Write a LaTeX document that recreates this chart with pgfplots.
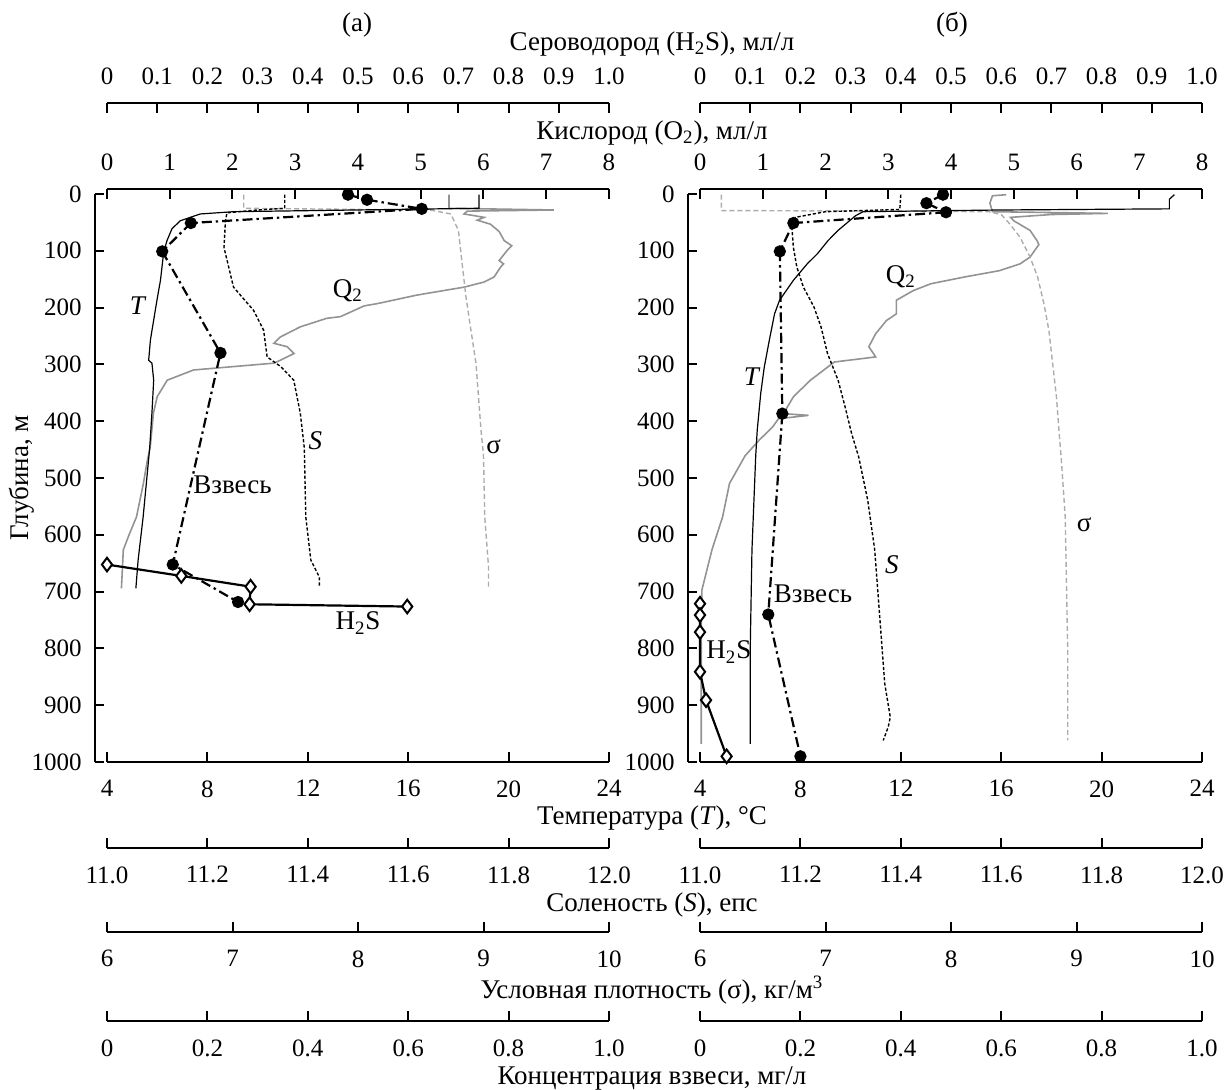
\documentclass[border=0pt]{standalone}
\usepackage{fontspec}
\setmainfont{Liberation Serif}
\usepackage{pgfplots}
\pgfplotsset{compat=1.18}

\pgfplotsset{
  every axis/.append style={scale only axis, tick align=inside,
    axis line style={line width=1pt,-}, major tick length=5pt,
    tick style={line width=1pt,black},
    ticklabel style={font=\fontsize{12.5}{15}\selectfont}},
  scalex/.style={axis y line=none, height=5pt, ymin=0, ymax=1, xticklabel shift=4.5pt},
  dat/.style 2 args={width=251pt, height=286.5pt, ymin=-10, ymax=1000, y dir=reverse,
    xmin=#1, xmax=#2, hide axis, clip=false},
  tline/.style={black, line width=0.6pt},
  sline/.style={black, line width=0.7pt, dash pattern=on 1.6pt off 1pt},
  sigline/.style={gray!65, line width=0.7pt, dash pattern=on 2.5pt off 1.5pt},
  oline/.style={gray!85, line width=0.8pt},
  vzline/.style={black, line width=1.1pt, dash pattern=on 5pt off 2pt on 1.2pt off 2pt,
    mark=*, mark size=2.5pt, mark options={solid}},
  hline/.style={black, line width=1.1pt, mark=diamond*, mark size=3.4pt,
    mark options={solid, fill=white, line width=1pt}},
}

% scale lines of one panel: #1 left edge of the plot box, #2 x of the depth axis
\newcommand{\panelscales}[2]{%
\begin{axis}[at={(#2pt,164pt)}, anchor=south west, width=3pt, height=284pt,
  xmin=0, xmax=1, ymin=0, ymax=1000, y dir=reverse,
  axis x line=none, axis y line*=left, major tick length=4.5pt,
  ytick={0,100,...,1000},
  yticklabels={0,100,200,300,400,500,600,700,800,900,1000},
  yticklabel shift=2pt]
\end{axis}
\begin{axis}[scalex, width=251pt, at={(#1pt,164pt)}, anchor=south west, axis x line*=bottom,
  xmin=4, xmax=24, xtick={4,8,12,16,20,24}, xticklabels={4,8,12,16,20,24}]
\end{axis}
\begin{axis}[scalex, width=251pt, at={(#1pt,450.5pt)}, anchor=north west, axis x line*=top,
  xmin=0, xmax=8, xtick={0,1,...,8}, xticklabels={0,1,2,3,4,5,6,7,8}]
\end{axis}
\begin{axis}[scalex, width=251pt, at={(#1pt,493.5pt)}, anchor=north west, axis x line*=top,
  xmin=0, xmax=1, xtick={0,0.1,0.2,0.3,0.4,0.5,0.6,0.7,0.8,0.9,1},
  xticklabels={0,0.1,0.2,0.3,0.4,0.5,0.6,0.7,0.8,0.9,1.0}]
\end{axis}
\begin{axis}[scalex, width=251pt, at={(#1pt,121pt)}, anchor=south west, axis x line*=bottom,
  xmin=11, xmax=12, xtick={11,11.2,11.4,11.6,11.8,12},
  xticklabels={11.0,11.2,11.4,11.6,11.8,12.0}]
\end{axis}
\begin{axis}[scalex, width=251pt, at={(#1pt,79pt)}, anchor=south west, axis x line*=bottom,
  xmin=6, xmax=10, xtick={6,7,8,9,10}, xticklabels={6,7,8,9,10}]
\end{axis}
\begin{axis}[scalex, width=251pt, at={(#1pt,34.5pt)}, anchor=south west, axis x line*=bottom,
  xmin=0, xmax=1, xtick={0,0.2,0.4,0.6,0.8,1},
  xticklabels={0,0.2,0.4,0.6,0.8,1.0}]
\end{axis}
}

\begin{document}
\fontsize{13.5}{16}\selectfont
\begin{tikzpicture}
\path[use as bounding box] (0pt,0pt) rectangle (614.5pt,545pt);

%================ panel (a) ================
\panelscales{53.5}{47.5}

% oxygen
\begin{axis}[dat={0}{8}, at={(53.5pt,164pt)}, anchor=south west]
\addplot[oline] coordinates {(5.45,0)(5.45,24)(7.12,27)(5.74,29)(5.69,34)(6.01,40)(5.9,45)(6.11,52)(6.25,65)(6.33,81)(6.45,90)(6.38,98)(6.25,116)(6.32,122)(6.27,128)(6.17,145)(6.01,154)(5.69,163)(4.94,177)(4.31,192)(4.1,196)(3.72,215)(3.5,218)(3.08,233)(2.76,251)(2.66,262)(2.87,268)(2.98,280)(2.76,292)(2.66,297)(2.02,303)(1.38,309)(0.96,327)(0.80,356)(0.74,385)(0.69,444)(0.64,470)(0.58,509)(0.47,568)(0.35,600)(0.26,626)(0.23,694)};
\end{axis}
% sigma
\begin{axis}[dat={6}{10}, at={(53.5pt,164pt)}, anchor=south west]
\addplot[sigline] coordinates {(7.09,0)(7.09,24)(8.0,26)(8.6,28)(8.74,34)(8.80,63)(8.83,122)(8.86,180)(8.90,239)(8.94,297)(8.96,356)(8.98,415)(9.00,460)(9.01,568)(9.04,656)(9.04,691)};
\end{axis}
% salinity
\begin{axis}[dat={11}{12}, at={(53.5pt,164pt)}, anchor=south west]
\addplot[sline] coordinates {(11.354,0)(11.354,24)(11.30,27)(11.239,32)(11.236,46)(11.233,93)(11.252,163)(11.292,204)(11.312,239)(11.319,286)(11.346,303)(11.372,327)(11.385,385)(11.393,446)(11.396,568)(11.406,644)(11.423,674)(11.423,691)};
\end{axis}
% suspension
\begin{axis}[dat={0}{1}, at={(53.5pt,164pt)}, anchor=south west]
\addplot[vzline] coordinates {(0.48,0)(0.518,9)(0.627,25)(0.167,50)(0.110,100)(0.226,279)(0.131,652)(0.261,718)};
\end{axis}
% hydrogen sulphide
\begin{axis}[dat={0}{1}, at={(53.5pt,164pt)}, anchor=south west]
\addplot[hline] coordinates {(0,652)(0.148,672)(0.286,691)(0.284,722)(0.598,726)};
\end{axis}
% temperature and labels
\begin{axis}[dat={4}{24}, at={(53.5pt,164pt)}, anchor=south west]
\addplot[tline] coordinates {(18.82,0)(18.82,24)(9.05,30)(7.72,34)(6.92,46)(6.59,60)(6.39,81)(6.26,101)(6.13,151)(5.99,186)(5.86,221)(5.73,256)(5.66,292)(5.79,297)(5.86,327)(5.79,385)(5.70,447)(5.44,568)(5.24,644)(5.15,694)};
\node at (axis cs:5.24,195) {\textit{T}};
\node at (axis cs:13.6,169) {Q\textsubscript{2}};
\node at (axis cs:12.3,433) {\textit{S}};
\node at (axis cs:19.4,445) {σ};
\node at (axis cs:9.0,512) {Взвесь};
\node at (axis cs:14.0,755) {H\textsubscript{2}S};
\end{axis}

%================ panel (б) ================
\panelscales{350}{344}

\begin{axis}[dat={0}{8}, at={(350pt,164pt)}, anchor=south west]
\addplot[oline] coordinates {(4.88,0)(4.66,2)(4.62,15)(4.66,30)(6.50,33)(5.6,35)(4.95,40)(5.0,46)(5.26,63)(5.37,81)(5.40,88)(5.26,110)(5.10,122)(4.77,134)(4.22,145)(3.68,157)(3.40,169)(3.13,186)(3.13,210)(2.97,222)(2.80,245)(2.69,268)(2.80,286)(2.14,295)(1.76,327)(1.49,356)(1.33,386)(1.73,389)(1.25,395)(1.16,409)(0.94,433)(0.72,460)(0.47,509)(0.36,568)(0.19,626)(0.03,697)(0.02,744)(0.02,968)};
\end{axis}
\begin{axis}[dat={6}{10}, at={(350pt,164pt)}, anchor=south west]
\addplot[sigline] coordinates {(6.17,0)(6.17,28)(7.5,29)(8.30,30)(8.40,35)(8.47,52)(8.55,75)(8.63,110)(8.69,145)(8.74,192)(8.78,239)(8.81,298)(8.84,356)(8.86,415)(8.88,470)(8.91,568)(8.92,685)(8.93,803)(8.93,962)};
\end{axis}
\begin{axis}[dat={11}{12}, at={(350pt,164pt)}, anchor=south west]
\addplot[sline] coordinates {(11.40,0)(11.398,26)(11.25,30)(11.19,40)(11.183,57)(11.186,93)(11.193,128)(11.206,163)(11.227,198)(11.241,233)(11.254,280)(11.275,327)(11.289,374)(11.302,421)(11.316,462)(11.334,538)(11.348,626)(11.358,744)(11.368,862)(11.379,921)(11.375,938)(11.365,962)};
\end{axis}
\begin{axis}[dat={0}{1}, at={(350pt,164pt)}, anchor=south west]
\addplot[vzline] coordinates {(0.484,0)(0.451,15)(0.490,31)(0.186,50)(0.159,100)(0.164,386)(0.136,740)(0.200,990)};
\end{axis}
\begin{axis}[dat={0}{1}, at={(350pt,164pt)}, anchor=south west]
\addplot[hline] coordinates {(0,721)(0,741)(0,771)(0,841)(0.012,891)(0.053,990)};
\end{axis}
\begin{axis}[dat={4}{24}, at={(350pt,164pt)}, anchor=south west]
\addplot[tline] coordinates {(22.9,0)(22.7,8)(22.7,25)(16,27)(10.5,30)(10.2,37)(9.5,63)(9.1,81)(8.68,104)(8.27,122)(7.72,151)(7.17,186)(6.97,210)(6.76,257)(6.56,304)(6.42,350)(6.28,415)(6.22,460)(6.07,626)(6.00,803)(6.00,968)};
\node at (axis cs:6.08,321) {\textit{T}};
\node at (axis cs:12.0,145) {Q\textsubscript{2}};
\node at (axis cs:11.64,653) {\textit{S}};
\node at (axis cs:19.3,582) {σ};
\node at (axis cs:8.5,703) {Взвесь};
\node at (axis cs:5.15,806) {H\textsubscript{2}S};
\end{axis}

%================ titles ================
\node at (178.5pt,532.5pt) {(а)};
\node at (476pt,532.5pt) {(б)};
\node at (326pt,523pt) {Сероводород (H\textsubscript{2}S), мл/л};
\node at (326pt,478.5pt) {Кислород (O\textsubscript{2}), мл/л};
\node at (326pt,136pt) {Температура (\textit{T}), °C};
\node at (326pt,92.5pt) {Соленость (\textit{S}), епс};
\node at (326pt,50pt) {Условная плотность (σ), кг/м\textsuperscript{3}};
\node at (326pt,6pt) {Концентрация взвеси, мг/л};
\node[rotate=90] at (11pt,306pt) {Глубина, м};
\end{tikzpicture}
\end{document}
